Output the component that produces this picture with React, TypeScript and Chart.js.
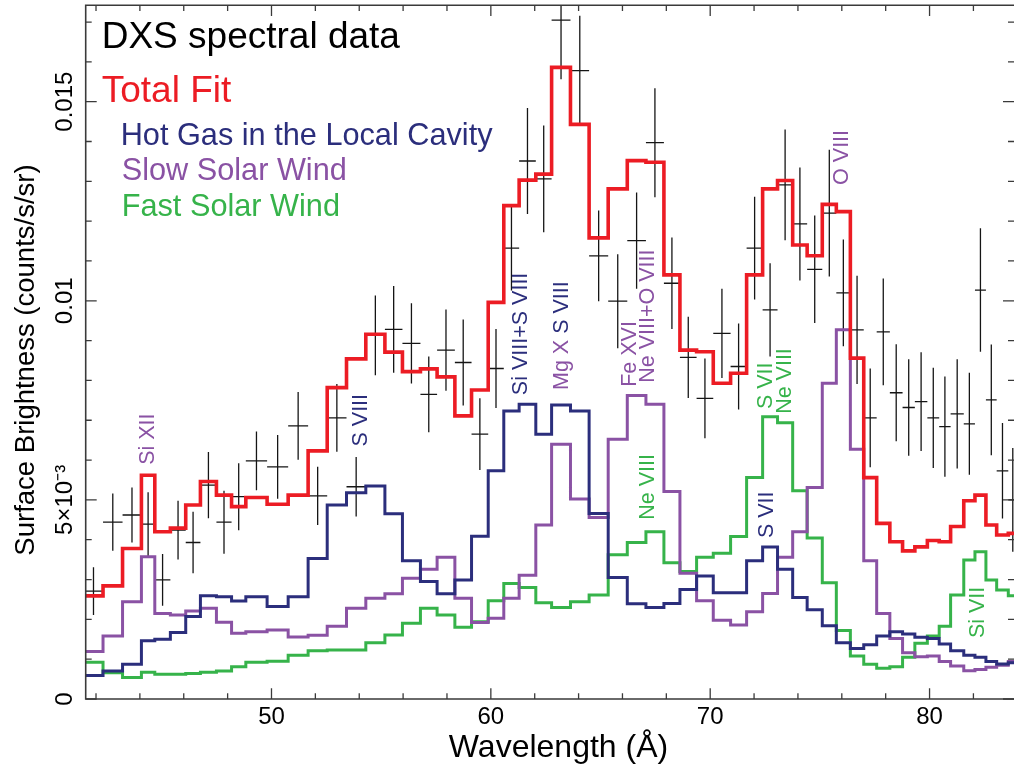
import React, { useEffect, useRef } from "react";
import { Chart, registerables } from "chart.js";

Chart.register(...registerables);

const FONT = "'Liberation Sans', Arial, Helvetica, sans-serif";
const RED = "#ec1c24";
const NAVY = "#2b2e7c";
const PURPLE = "#8a52a4";
const GREEN = "#36b34a";

// Wavelength bin edges (Å)
const binEdges = [
  41.45, 42.32, 43.21, 44.07, 44.68, 45.39, 46.09, 46.76, 47.49, 48.18,
  48.83, 49.8, 50.76, 51.67, 52.54, 53.42, 54.3, 55.17, 55.97, 56.79,
  57.55, 58.36, 59.12, 59.88, 60.59, 61.29, 62.05, 62.77, 63.63, 64.48,
  65.35, 66.22, 67.07, 67.89, 68.62, 69.38, 70.14, 70.93, 71.66, 72.39,
  73.07, 73.76, 74.42, 75.11, 75.75, 76.39, 77.0, 77.59, 78.19, 78.77,
  79.33, 79.9, 80.44, 80.96, 81.56, 82.07, 82.57, 83.06, 83.59, 84.0,
];

// Surface brightness per bin (counts/s/sr)
const totalFit = [
  0.00259, 0.00284, 0.00378, 0.00562, 0.0042, 0.00429, 0.00487, 0.00546, 0.00512, 0.00483,
  0.00506, 0.00489, 0.00512, 0.00623, 0.00782, 0.00854, 0.00916, 0.00871, 0.00822, 0.00829,
  0.00809, 0.00711, 0.00776, 0.00996, 0.01239, 0.01303, 0.01318, 0.01586, 0.01443, 0.01158,
  0.01281, 0.01352, 0.01348, 0.01065, 0.00876, 0.00872, 0.00793, 0.00818, 0.01065, 0.01281,
  0.01302, 0.0114, 0.01113, 0.01242, 0.01224, 0.00856, 0.00556, 0.00441, 0.00395, 0.00372,
  0.00382, 0.00398, 0.00395, 0.00433, 0.00498, 0.00512, 0.00437, 0.00412, 0.00416,
];
const hotGas = [
  0.00059, 0.0007, 0.00087, 0.00146, 0.0015, 0.00167, 0.00207, 0.00259, 0.00257, 0.00246,
  0.00257, 0.00232, 0.00257, 0.00353, 0.00487, 0.00518, 0.00535, 0.00465, 0.00347, 0.00295,
  0.00264, 0.00299, 0.00409, 0.00573, 0.00723, 0.0074, 0.00665, 0.00738, 0.00723, 0.00466,
  0.00305, 0.00239, 0.0023, 0.0024, 0.00275, 0.00309, 0.00267, 0.00267, 0.00347, 0.00382,
  0.00326, 0.00255, 0.00224, 0.00184, 0.00141, 0.00127, 0.00136, 0.00158, 0.00169, 0.00163,
  0.00155, 0.00152, 0.00138, 0.00121, 0.0011, 0.00105, 0.00094, 0.00088, 0.00091,
];
const slowWind = [
  0.00119, 0.00158, 0.00244, 0.00357, 0.00215, 0.00211, 0.00221, 0.00228, 0.00193, 0.00165,
  0.00169, 0.00173, 0.00156, 0.0016, 0.00183, 0.00228, 0.00253, 0.00264, 0.00303, 0.00326,
  0.00356, 0.00253, 0.00192, 0.00203, 0.00253, 0.00311, 0.00437, 0.0064, 0.00502, 0.00456,
  0.00652, 0.00762, 0.0074, 0.00521, 0.00316, 0.00247, 0.00198, 0.00186, 0.00219, 0.00265,
  0.00356, 0.0042, 0.00531, 0.00793, 0.00927, 0.00627, 0.00347, 0.00215, 0.00152, 0.00116,
  0.00106, 0.00108, 0.00094, 0.00083, 0.00071, 0.00074, 0.0008, 0.00085, 0.00094,
];
const fastWind = [
  0.00092, 0.00066, 0.00054, 0.00067, 0.00062, 0.00062, 0.00064, 0.00067, 0.0007, 0.00081,
  0.00092, 0.00095, 0.0011, 0.00121, 0.00123, 0.00123, 0.00141, 0.00161, 0.0019, 0.00228,
  0.00211, 0.0018, 0.00194, 0.00247, 0.0029, 0.0028, 0.00242, 0.0023, 0.00244, 0.00261,
  0.00362, 0.00393, 0.0042, 0.00342, 0.0032, 0.00356, 0.00366, 0.00408, 0.00556, 0.00709,
  0.00694, 0.00523, 0.00404, 0.00292, 0.00172, 0.00108, 0.00087, 0.00077, 0.00081, 0.00105,
  0.0014, 0.00158, 0.00183, 0.00261, 0.00349, 0.0037, 0.00299, 0.00274, 0.00259,
];
const dataValues = [
  0.00271, 0.00444, 0.00462, 0.00439, 0.00299, 0.00424, 0.00393, 0.00537, 0.00444, 0.00508,
  0.00598, 0.00583, 0.00686, 0.0051, 0.00706, 0.00533, 0.00913, 0.00928, 0.00893, 0.00765,
  0.00876, 0.00845, 0.00665, 0.0083, 0.01132, 0.01351, 0.01306, 0.01705, 0.01578, 0.01113,
  0.00999, 0.01151, 0.01397, 0.01044, 0.00858, 0.00755, 0.00918, 0.00835, 0.01132, 0.00977,
  0.01291, 0.01193, 0.01079, 0.0122, 0.0102, 0.00927, 0.00706, 0.00922, 0.00769, 0.00732,
  0.00747, 0.00706, 0.00684, 0.00716, 0.00691, 0.01027, 0.00751, 0.00573, 0.005,
];
const dataErrors = [
  0.0006, 0.00072, 0.00069, 0.0008, 0.00065, 0.00074, 0.00077, 0.00083, 0.00079, 0.00084,
  0.00074, 0.0008, 0.00085, 0.00073, 0.00085, 0.00075, 0.001, 0.00109, 0.00101, 0.00095,
  0.00102, 0.00108, 0.0009, 0.00099, 0.00106, 0.00133, 0.00134, 0.00149, 0.00138, 0.00114,
  0.00118, 0.00121, 0.00137, 0.00115, 0.00102, 0.001, 0.00112, 0.00108, 0.00129, 0.00117,
  0.00139, 0.00142, 0.00135, 0.00159, 0.00134, 0.00136, 0.00124, 0.00134, 0.00122, 0.00121,
  0.00124, 0.00126, 0.00126, 0.00137, 0.00128, 0.00155, 0.00139, 0.0012, 0.0013,
];

const xMin = 41.53;
const xMax = 83.85;
const yMin = 0;
const yMax = 0.01742;
const xMajorTicks = [50, 60, 70, 80];
const xMinorStep = 2;
const yMajorTicks = [0, 0.005, 0.01, 0.015];
const yTickLabels = ["0", "5×10⁻³", "0.01", "0.015"];
const yMinorStep = 0.001;

const legendItems = [
  { text: "DXS spectral data", color: "#000000" },
  { text: "Total Fit", color: RED },
  { text: "Hot Gas in the Local Cavity", color: NAVY },
  { text: "Slow Solar Wind", color: PURPLE },
  { text: "Fast Solar Wind", color: GREEN },
];

const lineLabels = [
  { parts: [{ t: "Si XII", c: PURPLE }], x: 44.38, y: 0.00588 },
  { parts: [{ t: "S VIII", c: NAVY }], x: 54.09, y: 0.00634 },
  { parts: [{ t: "Si VIII+S VIII", c: NAVY }], x: 61.4, y: 0.00763 },
  { parts: [{ t: "Mg X ", c: PURPLE }, { t: "S VIII", c: NAVY }], x: 63.24, y: 0.00776 },
  { parts: [{ t: "Fe XVI", c: PURPLE }], x: 66.33, y: 0.00784 },
  { parts: [{ t: "Ne VIII+O VIII", c: PURPLE }], x: 67.17, y: 0.00794 },
  { parts: [{ t: "Ne VIII", c: GREEN }], x: 67.17, y: 0.0045 },
  { parts: [{ t: "S VII", c: GREEN }], x: 72.56, y: 0.00728 },
  { parts: [{ t: "Ne VIII", c: GREEN }], x: 73.41, y: 0.00716 },
  { parts: [{ t: "O VIII", c: PURPLE }], x: 76.03, y: 0.01291 },
  { parts: [{ t: "S VII", c: NAVY }], x: 72.59, y: 0.00404 },
  { parts: [{ t: "Si VII", c: GREEN }], x: 82.19, y: 0.00153 },
];

const stepPoints = (vals: number[]) =>
  binEdges.map((x, i) => ({ x, y: vals[Math.min(i, vals.length - 1)] }));

const overlayPlugin = {
  id: "overlay",
  beforeDatasetsDraw(chart: any) {
    const { ctx, chartArea: a, scales } = chart;
    const xs = scales.x;
    const ys = scales.y;
    ctx.save();
    ctx.beginPath();
    ctx.rect(a.left, a.top, a.right - a.left, a.bottom - a.top);
    ctx.clip();
    ctx.strokeStyle = "#151515";
    ctx.lineWidth = 1.3;
    ctx.beginPath();
    dataValues.forEach((v, i) => {
      const xl = xs.getPixelForValue(binEdges[i]);
      const xr = xs.getPixelForValue(binEdges[i + 1]);
      const xc = xs.getPixelForValue((binEdges[i] + binEdges[i + 1]) / 2);
      const yc = ys.getPixelForValue(v);
      const yt = ys.getPixelForValue(v + dataErrors[i]);
      const yb = ys.getPixelForValue(v - dataErrors[i]);
      ctx.moveTo(xl, yc);
      ctx.lineTo(xr, yc);
      ctx.moveTo(xc, yt);
      ctx.lineTo(xc, yb);
    });
    ctx.stroke();
    ctx.restore();
  },
  afterDraw(chart: any) {
    const { ctx, chartArea: a, scales } = chart;
    const xs = scales.x;
    const ys = scales.y;
    ctx.save();
    // frame
    ctx.strokeStyle = "#3a3a3a";
    ctx.lineWidth = 1.6;
    ctx.beginPath();
    ctx.moveTo(a.right + 2, a.top);
    ctx.lineTo(a.left, a.top);
    ctx.lineTo(a.left, a.bottom);
    ctx.lineTo(a.right + 2, a.bottom);
    ctx.stroke();
    // ticks
    ctx.lineWidth = 1.3;
    ctx.beginPath();
    for (let v = Math.ceil(xMin / xMinorStep) * xMinorStep; v <= xMax; v += xMinorStep) {
      const px = xs.getPixelForValue(v);
      const len = xMajorTicks.includes(v) ? 10.7 : 5.7;
      ctx.moveTo(px, a.bottom);
      ctx.lineTo(px, a.bottom - len);
      ctx.moveTo(px, a.top);
      ctx.lineTo(px, a.top + len);
    }
    for (let k = 0; k * yMinorStep <= yMax; k++) {
      const v = k * yMinorStep;
      const py = ys.getPixelForValue(v);
      const len = k % 5 === 0 ? 11 : 6;
      ctx.moveTo(a.left, py);
      ctx.lineTo(a.left + len, py);
      ctx.moveTo(a.right, py);
      ctx.lineTo(a.right - len, py);
    }
    ctx.stroke();

    // y tick labels (rotated)
    ctx.fillStyle = "#000";
    ctx.font = `24px ${FONT}`;
    yMajorTicks.forEach((v, i) => {
      const py = ys.getPixelForValue(v);
      ctx.save();
      ctx.translate(a.left - 14, py);
      ctx.rotate(-Math.PI / 2);
      ctx.textAlign = "center";
      ctx.textBaseline = "alphabetic";
      ctx.fillText(yTickLabels[i], 0, 0);
      ctx.restore();
    });

    // axis titles
    ctx.font = `27.5px ${FONT}`;
    ctx.save();
    ctx.translate(33.5, 360);
    ctx.rotate(-Math.PI / 2);
    ctx.textAlign = "center";
    ctx.textBaseline = "alphabetic";
    ctx.fillText("Surface Brightness (counts/s/sr)", 0, 0);
    ctx.restore();

    ctx.font = `32px ${FONT}`;
    ctx.textAlign = "center";
    ctx.textBaseline = "alphabetic";
    ctx.fillText("Wavelength (Å)", 558.5, 757);

    // legend-like labels
    const legendPos = [
      { x: a.left + 16, y: 48.3, size: 37 },
      { x: a.left + 16, y: 101.7, size: 37 },
      { x: a.left + 35, y: 145, size: 30.7 },
      { x: a.left + 36, y: 180, size: 30.7 },
      { x: a.left + 36, y: 216, size: 30.7 },
    ];
    ctx.textAlign = "left";
    legendItems.forEach((it, i) => {
      ctx.font = `${legendPos[i].size}px ${FONT}`;
      ctx.fillStyle = it.color;
      ctx.fillText(it.text, legendPos[i].x, legendPos[i].y);
    });

    // line identifications
    ctx.font = `21.5px ${FONT}`;
    lineLabels.forEach((lab) => {
      const px = xs.getPixelForValue(lab.x);
      const py = ys.getPixelForValue(lab.y);
      ctx.save();
      ctx.translate(px, py);
      ctx.rotate(-Math.PI / 2);
      ctx.textAlign = "left";
      ctx.textBaseline = "middle";
      let off = 0;
      lab.parts.forEach((p) => {
        ctx.fillStyle = p.c;
        ctx.fillText(p.t, off, 0);
        off += ctx.measureText(p.t).width;
      });
      ctx.restore();
    });
    ctx.restore();
  },
};

export default function App() {
  const ref = useRef<HTMLCanvasElement>(null);
  useEffect(() => {
    const canvas = ref.current;
    if (!canvas) return;
    const stepDs = (label: string, vals: number[], color: string, width: number) => ({
      type: "line" as const,
      label,
      data: stepPoints(vals),
      borderColor: color,
      backgroundColor: color,
      borderWidth: width,
      pointRadius: 0,
      stepped: true,
      fill: false,
      tension: 0,
      clip: 0,
    });
    const chart = new Chart(canvas, {
      type: "line",
      data: {
        datasets: [
          stepDs("Total Fit", totalFit, RED, 3.6),
          stepDs("Hot Gas in the Local Cavity", hotGas, NAVY, 3),
          stepDs("Slow Solar Wind", slowWind, PURPLE, 3),
          stepDs("Fast Solar Wind", fastWind, GREEN, 3),
          {
            type: "scatter" as const,
            label: "DXS spectral data",
            data: dataValues.map((v, i) => ({ x: (binEdges[i] + binEdges[i + 1]) / 2, y: v })),
            pointRadius: 0,
            showLine: false,
            borderColor: "#000",
            backgroundColor: "#000",
          } as any,
        ],
      },
      options: {
        responsive: false,
        animation: false,
        events: [],
        layout: { padding: { top: 5.3, right: 0, bottom: 0, left: 0 } },
        plugins: { legend: { display: false }, tooltip: { enabled: false } },
        scales: {
          x: {
            type: "linear",
            position: "bottom",
            min: xMin,
            max: xMax,
            grid: { display: false, drawTicks: false },
            border: { display: false },
            ticks: {
              color: "#000",
              font: { family: FONT, size: 24 },
              padding: 4.4,
              maxRotation: 0,
              minRotation: 0,
              autoSkip: false,
            },
            afterBuildTicks: (s: any) => {
              s.ticks = xMajorTicks.map((v) => ({ value: v }));
            },
            afterFit: (s: any) => {
              s.height = 70;
            },
          },
          y: {
            type: "linear",
            position: "left",
            min: yMin,
            max: yMax,
            grid: { display: false, drawTicks: false },
            border: { display: false },
            ticks: { display: false },
            afterFit: (s: any) => {
              s.width = 85.7;
            },
          },
        },
      } as any,
      plugins: [overlayPlugin],
    });
    return () => chart.destroy();
  }, []);
  return (
    <div style={{ position: "fixed", left: 0, top: 0, width: 1014, height: 769, background: "#fff" }}>
      <canvas ref={ref} width={1014} height={769} style={{ display: "block", width: 1014, height: 769 }} />
    </div>
  );
}
